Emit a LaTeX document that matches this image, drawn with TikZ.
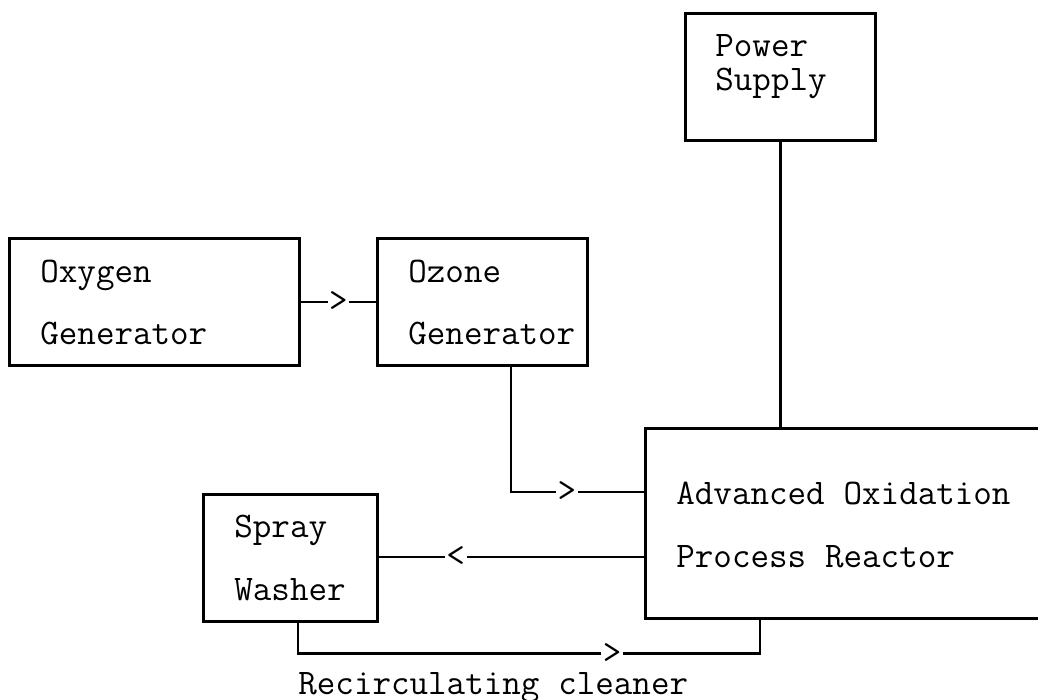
\documentclass[tikz,border=0pt]{standalone}
\usepackage{fontspec}
\usetikzlibrary{calc}

\begin{document}
\begin{tikzpicture}[x=0.5pt,y=-0.5pt,line width=1.4pt,line cap=butt,
  box/.style={draw,rectangle,inner sep=0pt,anchor=north west},
  txt/.style={font=\ttfamily\fontsize{18}{31.5}\selectfont,
    execute at begin node={\spaceskip=0.525em\relax},
    inner sep=0pt,text width=240pt,align=left,anchor=base west},
  dir/.style={font=\ttfamily\fontsize{18}{20}\selectfont,fill=white,inner sep=0.8pt}]
  \useasboundingbox (0,0) rectangle (1038,700);
  \clip (0,0) rectangle (1038,700);
  \node[box,minimum width=95pt,minimum height=63.5pt] (pow) at (684,12) {};
  \node[box,minimum width=145pt,minimum height=63.5pt] (oxy) at (8,237) {};
  \node[box,minimum width=105pt,minimum height=63.5pt] (ozo) at (376,237) {};
  \node[box,minimum width=87pt,minimum height=63.5pt] (spr) at (202,493) {};
  \node[box,minimum width=206pt,minimum height=95pt] (reac) at (644,427) {};
  \node[txt,font=\ttfamily\fontsize{18}{17}\selectfont] (pow-t)
    at ($(pow.north west)+(30,45)$) {Power\\Supply};
  \node[txt] (oxy-t) at ($(oxy.north west)+(31,45)$) {Oxygen\\Generator};
  \node[txt] (ozo-t) at ($(ozo.north west)+(31,45)$) {Ozone\\Generator};
  \node[txt] (spr-t) at ($(spr.north west)+(31,44)$) {Spray\\Washer};
  \node[txt] (reac-t) at ($(reac.north west)+(31,77)$)
    {Advanced Oxidation\\Process Reactor};
  \coordinate (ozo-out) at ($(ozo.south west)+(135,0)$);
  \coordinate (reac-in) at ($(reac.north west)+(0,65)$);
  \coordinate (reac-out) at ($(reac.north west)+(0,130)$);
  \coordinate (spr-out) at ($(spr.south west)+(96,0)$);
  \coordinate (reac-back) at ($(reac.south west)+(116,0)$);
  \draw (pow.south) -- (pow.south |- reac.north);
  \draw (oxy) -- node[dir]{>} (ozo);
  \draw (ozo-out) |- node[dir,pos=0.71]{>} (reac-in);
  \draw (reac-out) -- node[dir,pos=0.71]{<} (reac-out -| spr.east);
  \draw (spr-out) -- ++(0,31) -| node[dir,pos=0.34]{>} (reac-back);
  \node[txt] (recirc) at ($(spr-out)+(-1,72)$) {Recirculating cleaner};
\end{tikzpicture}
\end{document}
